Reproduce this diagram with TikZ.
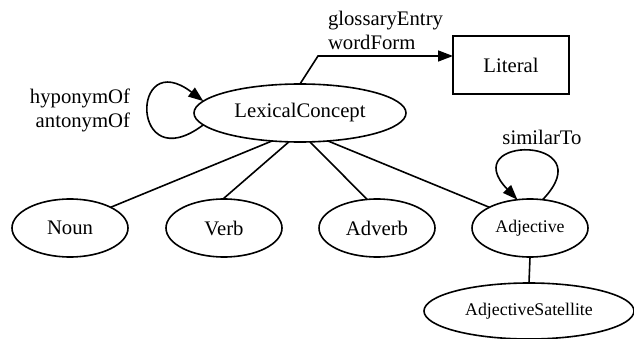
\documentclass[tikz,border=0pt]{standalone}
\usepackage{fontspec}
\setmainfont{Liberation Serif}
\usetikzlibrary{shapes.geometric,arrows.meta}
\begin{document}
\begin{tikzpicture}[x=1pt,y=-1pt,
  every node/.style={inner sep=0pt,outer sep=0pt,font=\fontsize{20.7}{24}\selectfont},
  ell/.style={draw,ellipse,line width=1.6pt,minimum width=116,minimum height=58},
  smallell/.style={ell,font=\fontsize{17.8}{21}\selectfont},
  boxnode/.style={draw,rectangle,line width=1.6pt,minimum width=116,minimum height=58},
  conn/.style={line width=1.6pt},
  arr/.style={conn,-{Triangle[length=15pt,width=11pt]}}]
\useasboundingbox (0,0) rectangle (634,339);
\node[ell,minimum width=212] (LC) at (300,113) {LexicalConcept};
\node[boxnode] (Lit) at (511,65) {Literal};
\node[ell] (Noun) at (70,228) {Noun};
\node[ell] (Verb) at (224,228) {Verb};
\node[ell] (Adverb) at (377,228) {Adverb};
\node[smallell] (Adj) at (530,228) {Adjective};
\node[smallell,minimum width=210,minimum height=56] (AdjSat) at (529,311) {AdjectiveSatellite};
% labels
\node[anchor=west,align=left] (glbl) at (328,30) {glossaryEntry\\wordForm};
\node[anchor=east,align=right] (hlbl) at (130,110) {hyponymOf\\antonymOf};
\node (slbl) at (542,137) {similarTo};
% edges
\coordinate (bend) at (318,56);
\draw[arr] (LC.90) -- (bend) -- (bend -| Lit.west);
\draw[arr] (LC.187) .. controls (130,180) and (130,45) .. (LC.173);
\draw[arr] (Adj.66) .. controls (605,135) and (455,135) .. (Adj.114);
\draw[conn] (LC.225) -- (Noun.27);
\draw[conn] (LC.249) -- (Verb.92);
\draw[conn] (LC.289) -- (Adverb.109);
\draw[conn] (LC.315) -- (Adj.153);
\draw[conn] (Adj.south) -- (AdjSat.north);
\end{tikzpicture}
\end{document}
